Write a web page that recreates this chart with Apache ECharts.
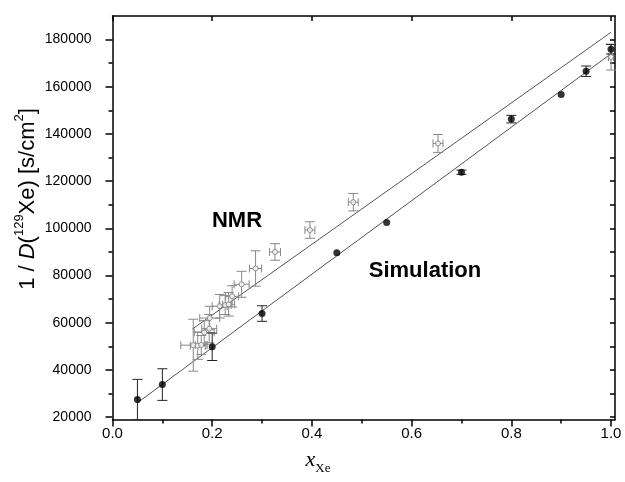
<!DOCTYPE html>
<html>
<head>
<meta charset="utf-8">
<script src="https://cdn.jsdelivr.net/npm/echarts@6/dist/echarts.min.js"></script>
<style>
html, body { margin: 0; padding: 0; background: #fff; }
#chart { width: 625px; height: 482px; }
</style>
</head>
<body>
<div id="chart"></div>
<script>
// simulation points (filled) and their error bars
var simX = [0.05, 0.1, 0.2, 0.3, 0.45, 0.55, 0.7, 0.8, 0.9, 0.95, 1.0];
var simY = [27500, 33800, 49800, 63900, 89700, 102500, 123800, 146300, 156700, 166600, 175900];
var simYErr = [8500, 6700, 5800, 3300, 0, 0, 900, 1600, 0, 2200, 2000];

// NMR points (open) with x and y error bars
var nmrX = [0.162, 0.171, 0.178, 0.184, 0.194, 0.195, 0.215, 0.226, 0.233, 0.240, 0.259, 0.287, 0.326, 0.396, 0.483, 0.653, 1.0];
var nmrY = [50500, 50300, 50600, 55900, 57500, 62000, 67000, 67500, 67800, 71200, 76300, 83000, 90000, 99300, 111100, 136000, 172600];
var nmrXErr = [0.025, 0.015, 0.012, 0.02, 0.015, 0.02, 0.015, 0.012, 0.012, 0.013, 0.015, 0.012, 0.011, 0.01, 0.01, 0.01, 0.005];
var nmrYErr = [11000, 5800, 4000, 5000, 6000, 5000, 5000, 4000, 5000, 4500, 5500, 7500, 3500, 3500, 3700, 3800, 5500];

// straight fit lines, end points
var simLineX = [0.05, 1.0];
var simLineY = [26100, 174000];
var nmrLineX = [0.16, 1.0];
var nmrLineY = [57300, 183100];

// ticks
var xTicks = [0, 0.2, 0.4, 0.6, 0.8, 1.0];
var xMinorTicks = [0.1, 0.3, 0.5, 0.7, 0.9];
var yTicks = [20000, 40000, 60000, 80000, 100000, 120000, 140000, 160000, 180000];
var yMinorTicks = [30000, 50000, 70000, 90000, 110000, 130000, 150000, 170000];

var xRange = [0, 1.008];
var yRange = [19000, 190000];

function pairs(xs, ys) {
    var out = [];
    for (var i = 0; i < xs.length; i++) {
        out.push([xs[i], ys[i]]);
    }
    return out;
}

// error bars drawn with a custom series
function errorBars(xs, ys, xe, ye, color) {
    var data = [];
    for (var i = 0; i < xs.length; i++) {
        data.push([xs[i], ys[i], xe[i], ye[i]]);
    }
    return {
        type: 'custom',
        clip: true,
        z: 2,
        silent: true,
        data: data,
        renderItem: function (params, api) {
            var x = api.value(0), y = api.value(1);
            var dx = api.value(2), dy = api.value(3);
            var st = { stroke: color, lineWidth: 1 };
            var kids = [];
            if (dy > 0) {
                var a = api.coord([x, y + dy]);
                var b = api.coord([x, y - dy]);
                kids.push({ type: 'line', shape: { x1: a[0], y1: a[1], x2: b[0], y2: b[1] }, style: st });
                kids.push({ type: 'line', shape: { x1: a[0] - 5, y1: a[1], x2: a[0] + 5, y2: a[1] }, style: st });
                kids.push({ type: 'line', shape: { x1: b[0] - 5, y1: b[1], x2: b[0] + 5, y2: b[1] }, style: st });
            }
            if (dx > 0) {
                var l = api.coord([x - dx, y]);
                var r = api.coord([x + dx, y]);
                kids.push({ type: 'line', shape: { x1: l[0], y1: l[1], x2: r[0], y2: r[1] }, style: st });
                kids.push({ type: 'line', shape: { x1: l[0], y1: l[1] - 4, x2: l[0], y2: l[1] + 4 }, style: st });
                kids.push({ type: 'line', shape: { x1: r[0], y1: r[1] - 4, x2: r[0], y2: r[1] + 4 }, style: st });
            }
            return { type: 'group', children: kids };
        }
    };
}

// one axis of the frame: ticks only at the given values
function frameAxis(range, pos, ticks, len, inside, showLine) {
    return {
        type: 'value', min: range[0], max: range[1], position: pos,
        splitLine: { show: false },
        axisLine: { show: showLine, onZero: false, lineStyle: { color: '#000', width: 1.5 } },
        axisTick: { inside: inside, length: len, customValues: ticks, lineStyle: { color: '#000', width: 1.5 } },
        axisLabel: { show: false }
    };
}

var myChart = echarts.init(document.getElementById('chart'));

var xMain = frameAxis(xRange, 'bottom', xTicks, 7, false, true);
xMain.axisLabel = {
    show: true, customValues: xTicks, color: '#000', fontSize: 15,
    fontFamily: 'Liberation Sans', margin: 7,
    formatter: function (v) { return v.toFixed(1); }
};
var yMain = frameAxis(yRange, 'left', yTicks, 7, false, true);
yMain.axisLabel = {
    show: true, customValues: yTicks, color: '#000', fontSize: 14,
    fontFamily: 'Liberation Sans', margin: 21,
    formatter: function (v) { return String(v); }
};

option = {
    animation: false,
    backgroundColor: '#fff',
    grid: { left: 112.5, right: 10, top: 16, bottom: 62.5 },
    xAxis: [
        xMain,
        frameAxis(xRange, 'bottom', xMinorTicks, 4, false, false),
        frameAxis(xRange, 'top', xTicks, 5, true, true)
    ],
    yAxis: [
        yMain,
        frameAxis(yRange, 'left', yMinorTicks, 4, false, false),
        frameAxis(yRange, 'right', yTicks.concat(yMinorTicks), 5, true, true)
    ],
    series: [
        {
            type: 'line', data: pairs(nmrLineX, nmrLineY), symbol: 'none', silent: true, z: 1,
            lineStyle: { color: '#555', width: 1 }
        },
        {
            type: 'line', data: pairs(simLineX, simLineY), symbol: 'none', silent: true, z: 1,
            lineStyle: { color: '#555', width: 1 }
        },
        errorBars(nmrX, nmrY, nmrXErr, nmrYErr, '#888'),
        errorBars(simX, simY, simX.map(function () { return 0; }), simYErr, '#222'),
        {
            type: 'scatter', data: pairs(nmrX, nmrY), symbol: 'circle', symbolSize: 5, z: 3,
            itemStyle: { color: '#fff', borderColor: '#777', borderWidth: 1 }
        },
        {
            type: 'scatter', data: pairs(simX, simY), symbol: 'circle', symbolSize: 7, z: 4,
            itemStyle: { color: '#000' }
        }
    ],
    graphic: [
        {
            type: 'text', x: 237, y: 221,
            style: { text: 'NMR', font: 'bold 22px "Liberation Sans", Arial, sans-serif', fill: '#000', align: 'center', verticalAlign: 'middle' }
        },
        {
            type: 'text', x: 425, y: 271,
            style: { text: 'Simulation', font: 'bold 22px "Liberation Sans", Arial, sans-serif', fill: '#000', align: 'center', verticalAlign: 'middle' }
        },
        {
            type: 'text', x: 26, y: 199, rotation: Math.PI / 2,
            style: {
                text: '{a|1 / }{i|D}{a|(}{s|129}{a|Xe) [s/cm}{s|2}{a|]}',
                align: 'center', verticalAlign: 'middle', fill: '#000',
                rich: {
                    a: { fontSize: 22, fontFamily: 'Liberation Sans', lineHeight: 26, verticalAlign: 'bottom' },
                    i: { fontSize: 22, fontFamily: 'Liberation Sans', fontStyle: 'italic', lineHeight: 26, verticalAlign: 'bottom' },
                    s: { fontSize: 13, fontFamily: 'Liberation Sans', lineHeight: 26, verticalAlign: 'top' }
                }
            }
        },
        {
            type: 'text', x: 318, y: 462,
            style: {
                text: '{x|x}{s|Xe}',
                align: 'center', verticalAlign: 'middle', fill: '#000',
                rich: {
                    x: { fontSize: 22, fontFamily: 'Liberation Serif', fontStyle: 'italic', lineHeight: 26, verticalAlign: 'top' },
                    s: { fontSize: 13, fontFamily: 'Liberation Serif', lineHeight: 26, verticalAlign: 'bottom' }
                }
            }
        }
    ]
};

myChart.setOption(option);
</script>
</body>
</html>
